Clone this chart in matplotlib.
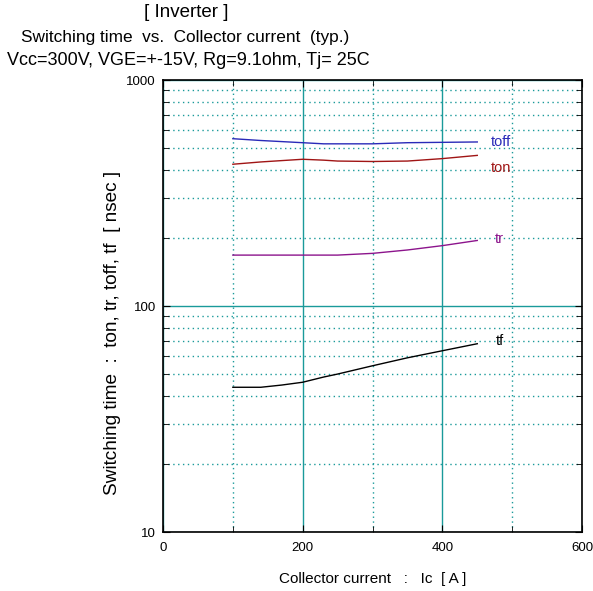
import numpy as np
import matplotlib.pyplot as plt
from matplotlib.ticker import FixedLocator, NullFormatter

plt.rcParams['font.family'] = ['Liberation Sans', 'DejaVu Sans']

# collector current [A]
ic = [100, 140, 170, 200, 230, 250, 300, 350, 400, 450]
# switching times [nsec]
toff = [550, 540, 534, 528, 522, 522, 522, 528, 530, 532]
ton = [424, 434, 440, 446, 442, 438, 436, 438, 449, 464]
tr = [168, 168, 168, 168, 168, 168, 171, 177, 185, 195]
tf = [43.7, 43.7, 44.7, 46.0, 48.5, 50.0, 54.4, 59.0, 63.4, 68.1]

series = [
    ('toff', toff, '#2a2ab8', 530),
    ('ton', ton, '#a01515', 410),
    ('tr', tr, '#8c148c', 198),
    ('tf', tf, '#000000', 70),
]
label_x = [470, 470, 475, 477]

teal = '#1a9a9a'

fig = plt.figure(figsize=(5.93, 5.91), dpi=100)
ax = fig.add_axes([0.2749, 0.0998, 0.7066, 0.7648])

ax.set_xlim(0, 600)
ax.set_yscale('log')
ax.set_ylim(10, 1000)

ax.xaxis.set_major_locator(FixedLocator([0, 200, 400, 600]))
ax.xaxis.set_minor_locator(FixedLocator([100, 300, 500]))
ax.yaxis.set_major_locator(FixedLocator([10, 100, 1000]))
minors = [m * d for d in (10, 100) for m in range(2, 10)]
ax.yaxis.set_minor_locator(FixedLocator(minors))
ax.yaxis.set_minor_formatter(NullFormatter())
ax.set_yticklabels(['10', '100', '1000'])

ax.grid(True, which='major', color=teal, lw=1.0, ls='-')
ax.grid(True, which='minor', color=teal, lw=1.0, ls=(0, (1, 2.5)))
ax.set_axisbelow(True)

ax.tick_params(which='both', direction='in', top=True, right=True,
               labelsize=9.5)
ax.tick_params(axis='x', pad=7)
ax.tick_params(axis='y', pad=5)
ax.tick_params(which='major', length=5)
ax.tick_params(which='minor', length=4)
for s in ax.spines.values():
    s.set_linewidth(1.2)

for (name, vals, col, ly), lx in zip(series, label_x):
    ax.plot(ic, vals, color=col, lw=1.0)
    ax.text(lx, ly, name, color=col, fontsize=10.5, ha='left', va='center')

ax.set_xlabel('Collector current   :   Ic  [ A ]', fontsize=11, labelpad=13)
# y label sits a bit below the axes centre in the original
fig.text(0.189, 0.4365, 'Switching time  :  ton, tr, toff, tf  [ nsec ]',
         fontsize=13.7, rotation=90, ha='center', va='center')

fig.text(0.314, 0.979, '[ Inverter ]', fontsize=13.5, ha='center', va='center')
fig.text(0.313, 0.936, 'Switching time  vs.  Collector current  (typ.)',
         fontsize=12.4, ha='center', va='center')
fig.text(0.317, 0.898, 'Vcc=300V, VGE=+-15V, Rg=9.1ohm, Tj= 25C',
         fontsize=13, ha='center', va='center')

fig.savefig('out.png', dpi=100)
